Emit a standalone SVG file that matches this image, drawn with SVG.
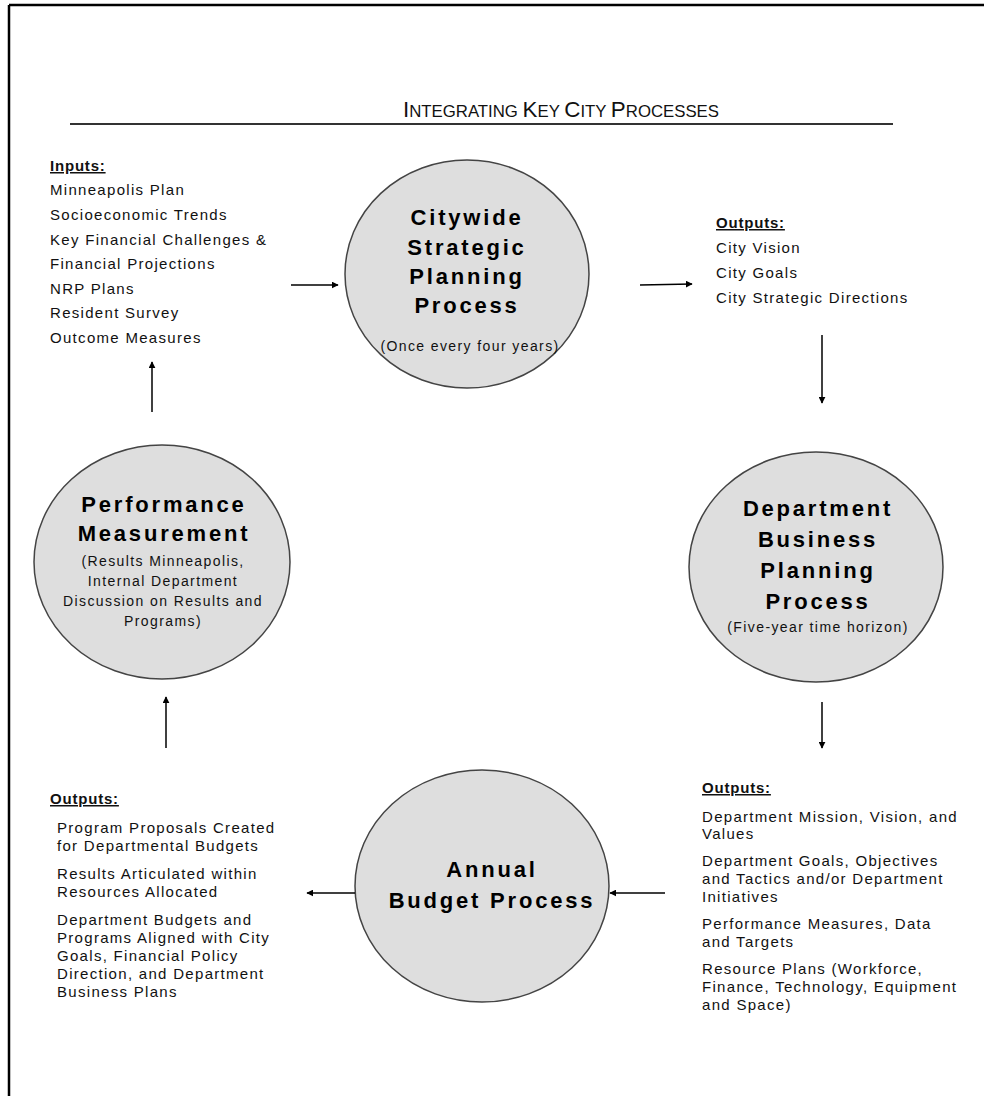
<svg xmlns="http://www.w3.org/2000/svg" width="984" height="1096" viewBox="0 0 984 1096">
<defs>
<style>
.body{font-family:"Liberation Sans",Arial,sans-serif;font-size:15px;letter-spacing:1.3px;fill:#111}
.hdr{font-family:"Liberation Sans",Arial,sans-serif;font-size:15px;font-weight:bold;letter-spacing:0.8px;text-decoration:underline;fill:#111}
.ttl{font-family:"Liberation Sans",Arial,sans-serif;font-size:22px;font-weight:bold;letter-spacing:2.8px;fill:#000;text-anchor:middle}
.sub{font-family:"Liberation Sans",Arial,sans-serif;font-size:14px;letter-spacing:1.4px;fill:#111;text-anchor:middle}
.node{fill:#dedede;stroke:#444;stroke-width:1.5}
.conn{stroke:#000;stroke-width:1.5;fill:none;marker-end:url(#ah)}
.big{font-size:22px}
.sm{font-size:16.5px}
</style>
<marker id="ah" viewBox="0 0 10 10" refX="9" refY="5" markerWidth="7" markerHeight="7" markerUnits="userSpaceOnUse" orient="auto">
<path d="M0,0 L10,5 L0,10 z" fill="#000"/>
</marker>
</defs>
<rect width="984" height="1096" fill="#fff"/>
<g id="frame" stroke="#000" stroke-width="2.5" fill="none">
<line x1="9" y1="5" x2="984" y2="5"/>
<line x1="9" y1="5" x2="9" y2="1096"/>
</g>
<g id="title">
<text x="403" y="117" textLength="316" lengthAdjust="spacingAndGlyphs" font-family="Liberation Sans,Arial,sans-serif" fill="#111"><tspan class="big">I</tspan><tspan class="sm">NTEGRATING </tspan><tspan class="big">K</tspan><tspan class="sm">EY </tspan><tspan class="big">C</tspan><tspan class="sm">ITY </tspan><tspan class="big">P</tspan><tspan class="sm">ROCESSES</tspan></text>
<line x1="70" y1="124" x2="893" y2="124" stroke="#333" stroke-width="1.8"/>
</g>
<g id="inputs">
<text class="hdr" x="50" y="171">Inputs:</text>
<text class="body" x="50" y="195">Minneapolis Plan</text>
<text class="body" x="50" y="220">Socioeconomic Trends</text>
<text class="body" x="50" y="245">Key Financial Challenges &amp;</text>
<text class="body" x="50" y="269">Financial Projections</text>
<text class="body" x="50" y="294">NRP Plans</text>
<text class="body" x="50" y="318">Resident Survey</text>
<text class="body" x="50" y="343">Outcome Measures</text>
</g>
<g id="citywide">
<ellipse class="node" cx="467" cy="274" rx="122" ry="114"/>
<text class="ttl" x="467" y="225">Citywide</text>
<text class="ttl" x="467" y="255">Strategic</text>
<text class="ttl" x="467" y="284">Planning</text>
<text class="ttl" x="467" y="313">Process</text>
<text class="sub" x="470" y="351">(Once every four years)</text>
</g>
<g id="outputs-city">
<text class="hdr" x="716" y="228">Outputs:</text>
<text class="body" x="716" y="253">City Vision</text>
<text class="body" x="716" y="278">City Goals</text>
<text class="body" x="716" y="303">City Strategic Directions</text>
</g>
<g id="department">
<ellipse class="node" cx="816" cy="567" rx="127" ry="115"/>
<text class="ttl" x="818" y="516">Department</text>
<text class="ttl" x="818" y="547">Business</text>
<text class="ttl" x="818" y="578">Planning</text>
<text class="ttl" x="818" y="609">Process</text>
<text class="sub" x="818" y="632">(Five-year time horizon)</text>
</g>
<g id="outputs-dept">
<text class="hdr" x="702" y="793">Outputs:</text>
<text class="body" x="702" y="822">Department Mission, Vision, and</text>
<text class="body" x="702" y="839">Values</text>
<text class="body" x="702" y="866">Department Goals, Objectives</text>
<text class="body" x="702" y="884">and Tactics and/or Department</text>
<text class="body" x="702" y="902">Initiatives</text>
<text class="body" x="702" y="929">Performance Measures, Data</text>
<text class="body" x="702" y="947">and Targets</text>
<text class="body" x="702" y="974">Resource Plans (Workforce,</text>
<text class="body" x="702" y="992">Finance, Technology, Equipment</text>
<text class="body" x="702" y="1010">and Space)</text>
</g>
<g id="annual">
<ellipse class="node" cx="482" cy="886" rx="127" ry="116"/>
<text class="ttl" x="492" y="877">Annual</text>
<text class="ttl" x="492" y="908">Budget Process</text>
</g>
<g id="outputs-budget">
<text class="hdr" x="50" y="804">Outputs:</text>
<text class="body" x="57" y="833">Program Proposals Created</text>
<text class="body" x="57" y="851">for Departmental Budgets</text>
<text class="body" x="57" y="879">Results Articulated within</text>
<text class="body" x="57" y="897">Resources Allocated</text>
<text class="body" x="57" y="925">Department Budgets and</text>
<text class="body" x="57" y="943">Programs Aligned with City</text>
<text class="body" x="57" y="961">Goals, Financial Policy</text>
<text class="body" x="57" y="979">Direction, and Department</text>
<text class="body" x="57" y="997">Business Plans</text>
</g>
<g id="performance">
<ellipse class="node" cx="162" cy="562" rx="128" ry="117"/>
<text class="ttl" x="164" y="512">Performance</text>
<text class="ttl" x="164" y="541">Measurement</text>
<text class="sub" x="163" y="566">(Results Minneapolis,</text>
<text class="sub" x="163" y="586">Internal Department</text>
<text class="sub" x="163" y="606">Discussion on Results and</text>
<text class="sub" x="163" y="626">Programs)</text>
</g>
<g id="connectors">
<line class="conn" x1="291" y1="285" x2="338" y2="285"/>
<line class="conn" x1="640" y1="285" x2="692" y2="284"/>
<line class="conn" x1="822" y1="335" x2="822" y2="403"/>
<line class="conn" x1="822" y1="702" x2="822" y2="748"/>
<line class="conn" x1="665" y1="893" x2="610" y2="893"/>
<line class="conn" x1="355" y1="893" x2="307" y2="893"/>
<line class="conn" x1="166" y1="748" x2="166" y2="697"/>
<line class="conn" x1="152" y1="412" x2="152" y2="362"/>
</g>
</svg>
